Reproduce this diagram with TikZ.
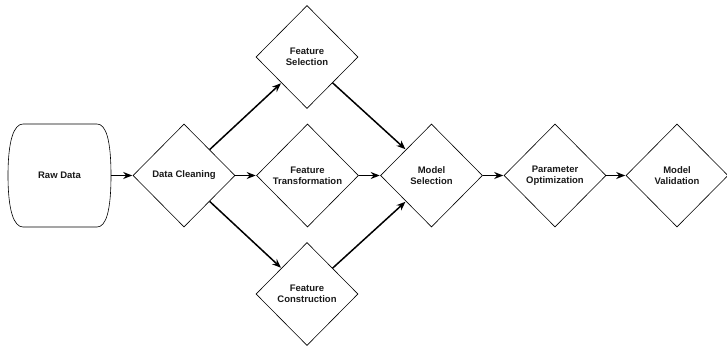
\documentclass[tikz,border=0pt]{standalone}
\usepackage{fontspec}
\setmainfont{Liberation Sans}
\usepackage{tikz}
\usetikzlibrary{positioning,arrows.meta,shapes.geometric}

\begin{document}
\begin{tikzpicture}[x=1pt,y=-1pt,
  lbl/.style={font=\fontsize{9.5}{11}\selectfont\bfseries, align=center, text=black!90},
  dia/.style={lbl, diamond, draw, line width=0.6pt, minimum width=102pt, minimum height=103pt, inner sep=0pt},
  flow/.style={-{Stealth[length=9pt,width=7pt]}, line width=1.5pt, shorten >=0.5pt}]
\useasboundingbox (0,0) rectangle (727,345);
% raw data store
\node[lbl, minimum width=103pt, minimum height=103pt, inner sep=0pt] (raw) at (59.5,175.5) {Raw Data};
\draw[line width=0.6pt] (23,124) -- (97,124)
  .. controls (106,124) and (111,140) .. (111,175.5)
  .. controls (111,211) and (106,227) .. (97,227) -- (23,227)
  .. controls (14,227) and (8,211) .. (8,175.5)
  .. controls (8,140) and (14,124) .. cycle;
% steps
\node[dia] (clean) at (184,175.5) {Data Cleaning};
\node[dia] (fsel) at (307,57) {Feature\\Selection};
\node[dia] (ftrans) at (307.5,175.5) {Feature\\Transformation};
\node[dia] (fcons) at (307,294) {Feature\\Construction};
\node[dia] (msel) at (431.5,175.5) {Model\\Selection};
\node[dia] (popt) at (555,175.5) {Parameter\\Optimization};
\node[dia] (mval) at (677,175.5) {Model\\Validation};
% arrows
\draw[flow] (raw.east) -- (clean.west);
\draw[flow] (clean.east) -- (ftrans.west);
\draw[flow] (clean.north east) -- (fsel.south west);
\draw[flow] (clean.south east) -- (fcons.north west);
\draw[flow] (ftrans.east) -- (msel.west);
\draw[flow] (fsel.south east) -- (msel.north west);
\draw[flow] (fcons.north east) -- (msel.south west);
\draw[flow] (msel.east) -- (popt.west);
\draw[flow] (popt.east) -- (mval.west);
\end{tikzpicture}
\end{document}
